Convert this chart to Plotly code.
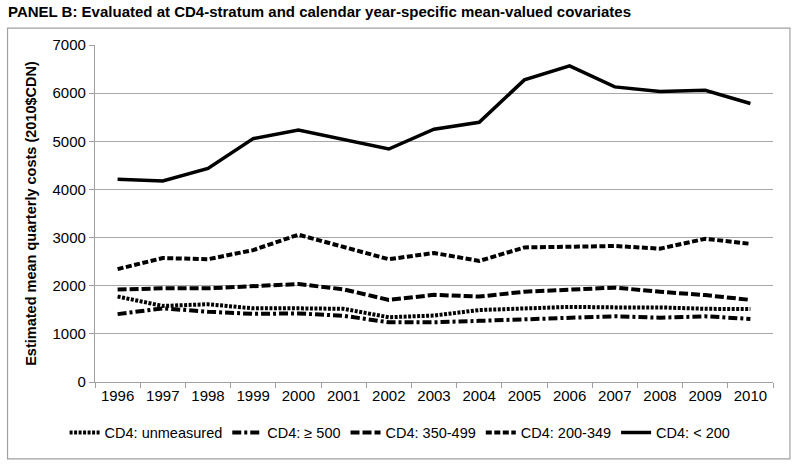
import plotly.graph_objects as go

# calendar years on the x axis
years = [str(y) for y in range(1996, 2011)]

# estimated mean quarterly costs per CD4 stratum
cd4_unmeasured = [1775, 1580, 1615, 1530, 1530, 1520, 1345, 1380, 1495, 1530, 1560, 1550, 1550, 1520, 1515]
cd4_500plus = [1410, 1530, 1460, 1415, 1425, 1375, 1240, 1240, 1270, 1300, 1335, 1365, 1335, 1365, 1310]
cd4_350_499 = [1920, 1945, 1945, 1980, 2035, 1925, 1705, 1810, 1775, 1875, 1910, 1960, 1875, 1805, 1705]
cd4_200_349 = [2345, 2575, 2550, 2740, 3060, 2815, 2550, 2680, 2515, 2795, 2810, 2825, 2770, 2975, 2870]
cd4_below200 = [4210, 4175, 4435, 5055, 5235, 5030, 4840, 5250, 5395, 6275, 6565, 6130, 6035, 6060, 5785]

series_names = ["CD4: unmeasured", "CD4: \u2265 500", "CD4: 350-499", "CD4: 200-349", "CD4: < 200"]
series_values = [cd4_unmeasured, cd4_500plus, cd4_350_499, cd4_200_349, cd4_below200]
dash_styles = ["3px,1.5px", "9px,3px,3px,3px", "9px,3px", "6px,2.5px", "solid"]
line_widths = [4, 4, 4, 4, 3.5]

font_family = "Arial, Liberation Sans, sans-serif"

fig = go.Figure()
for name, vals, dash, w in zip(series_names, series_values, dash_styles, line_widths):
    fig.add_trace(go.Scatter(
        x=years, y=vals, name=name, mode="lines",
        line=dict(color="black", width=w, dash=dash),
    ))

# outer chart border like the Excel chart area
fig.add_shape(type="rect", xref="paper", yref="paper",
              x0=-0.129, x1=1.025, y0=-0.228, y1=1.050,
              line=dict(color="#a0a0a0", width=1.2), layer="below")

fig.update_layout(
    width=800, height=465,
    margin=dict(l=95, r=27, t=45, b=83),
    paper_bgcolor="white", plot_bgcolor="white",
    font=dict(family=font_family, size=15, color="black"),
    title=dict(text="<b>PANEL B: Evaluated at CD4-stratum and calendar year-specific mean-valued covariates</b>",
               x=0.01, xanchor="left", y=0.975, yanchor="middle",
               font=dict(size=15, color="black")),
    showlegend=True,
    legend=dict(orientation="h", x=0.45, xanchor="center", y=-0.15, yanchor="middle",
                font=dict(size=14.5), itemwidth=30, tracegroupgap=0,
                bgcolor="rgba(0,0,0,0)"),
    xaxis=dict(
        type="category", range=[-0.5, 14.5], showgrid=False, showline=True,
        linecolor="#a0a0a0", linewidth=1.2,
        ticks="outside", tickson="boundaries", ticklen=5, tickcolor="#a0a0a0",
        tickfont=dict(size=15), fixedrange=True,
    ),
    yaxis=dict(
        range=[0, 7000], dtick=1000, showgrid=True, gridcolor="#a8a8a8", gridwidth=1.2,
        showline=True, linecolor="#a0a0a0", linewidth=1.2,
        ticks="outside", ticklen=5, tickcolor="#a0a0a0",
        tickfont=dict(size=15), zeroline=False,
        title=dict(text="<b>Estimated mean quarterly costs (2010$CDN)</b>",
                   font=dict(size=14.5), standoff=12),
    ),
)

# drop the browser's default body margin so the figure sits at the page corner
fig.write_html("out.html", config={"displayModeBar": False},
               post_script="document.body.style.margin='0';")
